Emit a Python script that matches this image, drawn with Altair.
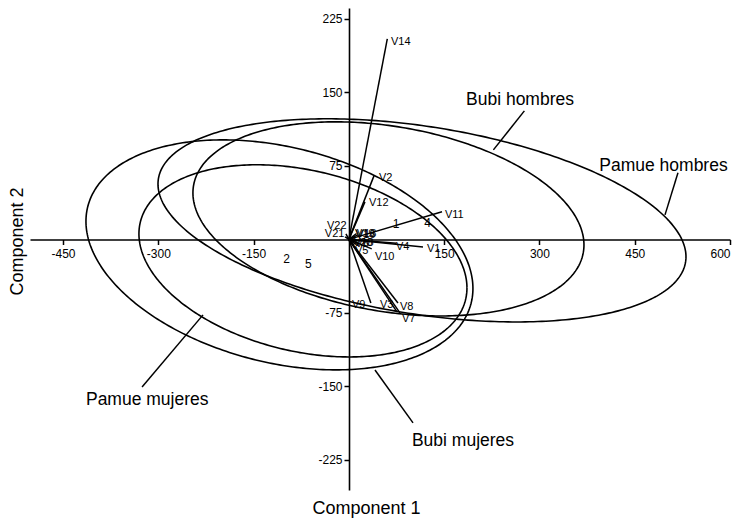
import altair as alt
import numpy as np
import pandas as pd

FONT = "Liberation Sans"

# ---- axes ----
x_ticks = [-450, -300, -150, 150, 300, 450, 600]
y_ticks = [225, 150, 75, -75, -150, -225]
x_domain = [-502, 600]
y_domain = [-255.6, 236]

# ---- ellipses: centre, x half-extent, y half-extent, correlation ----
ell_names = ["Pamue hombres", "Bubi hombres", "Bubi mujeres", "Pamue mujeres"]
ell_cx = [115.1, 62.3, -109.3, -72.3]
ell_cy = [19.4, 20.9, -15.8, -21.9]
ell_rx = [415.6, 307.8, 304.6, 258.2]
ell_ry = [103.6, 99.0, 117.3, 98.0]
ell_rho = [-0.358, -0.268, -0.292, -0.281]

# ---- loading vectors (end points) ----
vec_names = ["V14", "V2", "V12", "V11", "V1", "V4", "V10", "V9", "V3", "V8", "V7",
             "V22", "V21", "V19", "V16", "V13", "V20", "V18", "V6", "V5"]
vec_x = [60.5, 39.5, 25.3, 146.6, 116.7, 75.0, 36.0, 34.6, 75.7, 77.3, 80.4,
         -4.6, -6.0, 14.0, 12.0, 10.0, 12.8, 11.0, 8.0, 9.6]
vec_y = [204.4, 64.8, 38.3, 28.1, -7.7, -4.0, -9.7, -64.8, -74.0, -64.8, -75.0,
         5.6, 2.6, 4.6, 6.0, 3.0, -3.6, -5.0, -6.0, -8.7]
# label anchor positions of the vectors
lab_x = [66.3, 47.4, 31.6, 151.3, 123.0, 74.0, 41.0, 4.9, 49.0, 80.4, 83.6,
         -34.5, -37.8, 9.6, 11.0, 12.4, 6.4, 8.0, 10.0, 9.6]
lab_y = [201.5, 62.8, 37.2, 25.0, -9.7, -7.7, -17.9, -66.8, -66.8, -68.9, -81.1,
         13.8, 5.6, 5.6, 4.6, 5.0, -3.6, -4.0, -4.5, -11.7]

# ---- group centroid numbers ----
num_text = ["1", "4", "2", "5"]
num_x = [74.2, 124.1, -97.9, -63.9]
num_y = [15.8, 16.5, -20.2, -25.0]

# ---- group labels and leader lines ----
grp_text = ["Bubi hombres", "Pamue hombres", "Pamue mujeres", "Bubi mujeres"]
grp_x = [184.4, 394.2, -413.9, 99.3]
grp_y = [137.2, 70.2, -168.9, -210.7]
lead_x0 = [276.3, 518.1, -325.6, 101.0]
lead_y0 = [131.1, 67.9, -150.5, -187.2]
lead_x1 = [227.5, 497.7, -229.6, 41.1]
lead_y1 = [91.3, 25.0, -77.0, -133.2]

# ---- build tables ----
t = np.linspace(0, 2 * np.pi, 361)
rows = []
for name, cx, cy, rx, ry, rho in zip(ell_names, ell_cx, ell_cy, ell_rx, ell_ry, ell_rho):
    xs = cx + rx * np.cos(t)
    ys = cy + ry * (rho * np.cos(t) + np.sqrt(1 - rho ** 2) * np.sin(t))
    for i, (a, b) in enumerate(zip(xs, ys)):
        rows.append({"group": name, "i": i, "x": float(a), "y": float(b)})
ell_df = pd.DataFrame(rows)

vec_df = pd.DataFrame({"name": vec_names, "x0": 0.0, "y0": 0.0, "x1": vec_x, "y1": vec_y})
lab_df = pd.DataFrame({"name": vec_names, "x": lab_x, "y": lab_y})
num_df = pd.DataFrame({"t": num_text, "x": num_x, "y": num_y})
grp_df = pd.DataFrame({"t": grp_text, "x": grp_x, "y": grp_y})
lead_df = pd.DataFrame({"x0": lead_x0, "y0": lead_y0, "x1": lead_x1, "y1": lead_y1})

W, H = 700, 482
xscale = alt.Scale(domain=x_domain, nice=False, zero=False)
yscale = alt.Scale(domain=y_domain, nice=False, zero=False)

xaxis = alt.Axis(values=x_ticks, orient="bottom", offset=-250.5,
                 labelExpr="'' + datum.value", labelPadding=4, labelFlush=True,
                 title="Component 1", titleX=336, titleY=273.5,
                 titleBaseline="alphabetic", titleAlign="center")
yaxis = alt.Axis(values=y_ticks, orient="left", offset=-319,
                 labelExpr="'' + datum.value", labelPadding=2, labelFlush=False,
                 title="Component 2", titleX=-332, titleY=233,
                 titleAngle=-90, titleBaseline="middle", titleAlign="center")


def X(f):
    return alt.X(f, type="quantitative", scale=xscale, axis=xaxis)


def Y(f):
    return alt.Y(f, type="quantitative", scale=yscale, axis=yaxis)


ellipses = alt.Chart(ell_df).mark_line(color="black", strokeWidth=1.6).encode(
    x=X("x"), y=Y("y"), detail="group:N", order="i:Q"
)

vectors = alt.Chart(vec_df).mark_rule(color="black", strokeWidth=1.5).encode(
    x=X("x0"), y=Y("y0"), x2="x1", y2="y1"
)

vlabels = alt.Chart(lab_df).mark_text(
    align="left", baseline="middle", fontSize=11, font=FONT, color="black"
).encode(x=X("x"), y=Y("y"), text="name:N")

nums = alt.Chart(num_df).mark_text(
    align="center", baseline="middle", fontSize=12, font=FONT, color="black"
).encode(x=X("x"), y=Y("y"), text="t:N")

leaders = alt.Chart(lead_df).mark_rule(color="black", strokeWidth=1.5).encode(
    x=X("x0"), y=Y("y0"), x2="x1", y2="y1"
)

glabels = alt.Chart(grp_df).mark_text(
    align="left", baseline="alphabetic", fontSize=17.5, font=FONT, color="black"
).encode(x=X("x"), y=Y("y"), text="t:N")

chart = alt.layer(ellipses, vectors, leaders, vlabels, nums, glabels).properties(
    width=W, height=H,
    autosize=alt.AutoSizeParams(type="none"),
    padding={"left": 22, "top": 0, "right": 3, "bottom": 28},
    background="white",
).configure_view(strokeWidth=0).configure_axis(
    grid=False,
    domainColor="black", domainWidth=1.6,
    tickColor="black", tickWidth=1.5, tickSize=5,
    labelFont=FONT, labelFontSize=12, labelColor="black",
    labelOverlap=False,
    titleFont=FONT, titleFontSize=18, titleFontWeight="normal", titleColor="black",
)

chart.save("out.html", embed_options={"renderer": "svg", "actions": False})
